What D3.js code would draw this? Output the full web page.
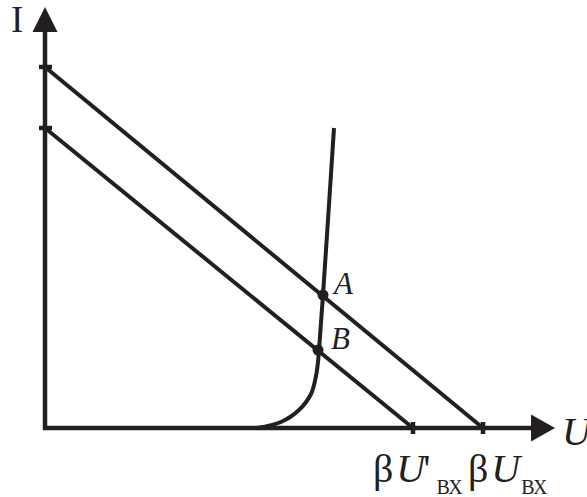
<!DOCTYPE html>
<html>
<head>
<meta charset="utf-8">
<script src="https://cdn.jsdelivr.net/npm/d3@7"></script>
<style>
  body { margin:0; background:#fff; }
  svg { display:block; }
</style>
</head>
<body>
<div id="chart"></div>
<script>
// load lines: current intercept on I axis, voltage intercept on U axis
var loadI = [361, 300];
var loadU = [438, 368];
var loadPrime = ["", "'"];
// diode characteristic
var diodeU = [212, 236, 254, 266, 271, 273, 274, 278, 289];
var diodeI = [0, 6, 18, 34, 52, 66, 78, 133, 300];
// operating points
var pointNames = ["A", "B"];
var pointU = [278, 273];
var pointI = [133, 78];

var w = 587, h = 497;
var ink = "#231f20";

var x = d3.scaleLinear().domain([0, 510]).range([45, 555]);
var y = d3.scaleLinear().domain([0, 421]).range([428, 7]);

var svg = d3.select("#chart").append("svg")
    .attr("width", w)
    .attr("height", h);

// axes
svg.append("line")
    .attr("x1", x(0)).attr("y1", y(0) + 2)
    .attr("x2", x(0)).attr("y2", y(0) - 396)
    .attr("stroke", ink).attr("stroke-width", 4.5);
svg.append("line")
    .attr("x1", x(0) - 2).attr("y1", y(0))
    .attr("x2", x(486)).attr("y2", y(0))
    .attr("stroke", ink).attr("stroke-width", 4.5);

// arrow heads
svg.append("path")
    .attr("d", "M" + x(0) + "," + y(421) + "L" + (x(0) - 12.5) + "," + (y(421) + 25) + "L" + (x(0) + 12.5) + "," + (y(421) + 25) + "Z")
    .attr("fill", ink);
svg.append("path")
    .attr("d", "M" + x(510) + "," + y(0) + "L" + (x(510) - 24) + "," + (y(0) - 13.5) + "L" + (x(510) - 24) + "," + (y(0) + 13.5) + "Z")
    .attr("fill", ink);

// load lines
svg.selectAll(".load")
    .data(loadI)
    .enter()
    .append("line")
    .attr("class", "load")
    .attr("x1", x(0))
    .attr("y1", function(d){ return y(d); })
    .attr("x2", function(d,i){ return x(loadU[i]); })
    .attr("y2", y(0))
    .attr("stroke", ink)
    .attr("stroke-width", 4);

// ticks on I axis
svg.selectAll(".itick")
    .data(loadI)
    .enter()
    .append("line")
    .attr("x1", x(0) - 6).attr("x2", x(0) + 7)
    .attr("y1", function(d){ return y(d); })
    .attr("y2", function(d){ return y(d); })
    .attr("stroke", ink).attr("stroke-width", 4.5);

// ticks on U axis
svg.selectAll(".utick")
    .data(loadU)
    .enter()
    .append("line")
    .attr("x1", function(d){ return x(d); })
    .attr("x2", function(d){ return x(d); })
    .attr("y1", y(0) - 6).attr("y2", y(0) + 6)
    .attr("stroke", ink).attr("stroke-width", 4.5);

// diode curve
var diode = diodeU.map(function(d,i){ return [d, diodeI[i]]; });
var line = d3.line()
    .x(function(d){ return x(d[0]); })
    .y(function(d){ return y(d[1]); })
    .curve(d3.curveCatmullRom.alpha(0.5));
svg.append("path")
    .datum(diode)
    .attr("d", line)
    .attr("fill", "none")
    .attr("stroke", ink)
    .attr("stroke-width", 4);

// operating points
svg.selectAll(".pt")
    .data(pointNames)
    .enter()
    .append("circle")
    .attr("cx", function(d,i){ return x(pointU[i]); })
    .attr("cy", function(d,i){ return y(pointI[i]); })
    .attr("r", 5.5)
    .attr("fill", ink);

svg.selectAll(".ptlabel")
    .data(pointNames)
    .enter()
    .append("text")
    .text(function(d){ return d; })
    .attr("x", function(d,i){ return x(pointU[i]) + (i == 0 ? 11 : 13); })
    .attr("y", function(d,i){ return y(pointI[i]) - 1; })
    .style("font-family", "'Liberation Serif'")
    .style("font-style", "italic")
    .style("font-size", "31px")
    .attr("fill", ink);

// axis labels
svg.append("text")
    .text("I")
    .attr("x", 11).attr("y", 32)
    .style("font-family", "'Liberation Serif'")
    .style("font-size", "37px")
    .attr("fill", ink);

svg.append("text")
    .text("U")
    .attr("x", 562).attr("y", 445)
    .style("font-family", "'Liberation Serif'")
    .style("font-style", "italic")
    .style("font-size", "40px")
    .attr("fill", ink);

// labels under U axis ticks
loadU.forEach(function(u, i){
  var prime = loadPrime[i];
  var t = svg.append("text")
      .attr("x", x(u) + (prime ? -40 : -15)).attr("y", 482)
      .style("font-family", "'Liberation Serif'")
      .style("font-size", "40px")
      .attr("fill", ink);
  t.append("tspan").text("β");
  t.append("tspan").text("U").style("font-style", "italic").attr("dx", 3);
  if (prime) t.append("tspan").text(prime).attr("dx", -2);
  t.append("tspan").text("ВХ")
      .attr("dx", prime ? 6 : 1).attr("dy", 12)
      .style("font-size", "20px")
      .style("letter-spacing", "-1px");
});
</script>
</body>
</html>
